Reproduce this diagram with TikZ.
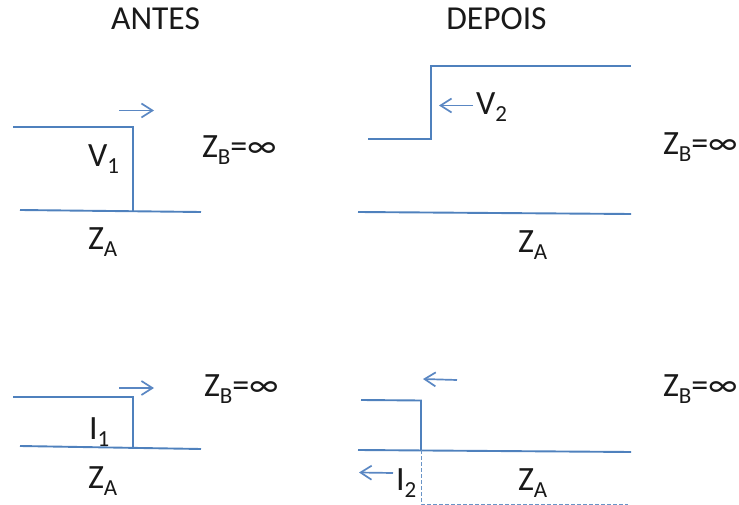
\documentclass[tikz,border=0pt]{standalone}
\usepackage{fontspec}
\setmainfont{Carlito}
\usetikzlibrary{arrows.meta}
\definecolor{wave}{RGB}{79,129,189}
\definecolor{arr}{RGB}{90,135,195}
\newcommand{\subs}[2]{#1\raisebox{-7pt}{\fontsize{23}{23}\selectfont #2}}
\tikzset{
  x=1pt,y=-1pt,
  wire/.style={draw=wave,line width=1.9pt},
  thin wire/.style={draw=wave!85,line width=1pt,dash pattern=on 4pt off 2pt},
  flow/.style={draw=arr,line width=1.7pt,-{Straight Barb[length=11pt,width=14pt,line width=1.7pt]}},
  lab/.style={inner sep=0pt,outer sep=0pt,font=\fontsize{34}{34}\selectfont,text=black!90,anchor=base west,yshift=-2pt},
  head/.style={inner sep=0pt,outer sep=0pt,font=\fontsize{33.5}{34}\selectfont,text=black!90,anchor=base}
}
\begin{document}
\begin{tikzpicture}
\useasboundingbox (0,0) rectangle (739,505);
\node[head] (antes) at (155.5,30) {ANTES};
\node[head] (depois) at (496.5,30) {DEPOIS};
% top left
\coordinate (a1) at (13,127); \coordinate (a2) at (133,127); \coordinate (a3) at (133,211);
\coordinate (a4) at (20,210); \coordinate (a5) at (201,212);
\draw[wire] (a1) -- (a2) -- (a3);
\draw[wire] (a4) -- (a5);
\coordinate (a6) at (119,110.5); \coordinate (a7) at (154,110.5);
\draw[flow] (a6) -- (a7);
\node[lab] (v1) at (88,165) {\subs{V}{1}};
\node[lab] (za1) at (88,248) {\subs{Z}{A}};
\node[lab] (zb1) at (202,156) {\subs{Z}{B}=∞};
% top right
\coordinate (b1) at (368,139); \coordinate (b2) at (431,139); \coordinate (b3) at (431,66);
\coordinate (b4) at (631,66); \coordinate (b5) at (358,212); \coordinate (b6) at (631,214);
\draw[wire] (b1) -- (b2) -- (b3) -- (b4);
\draw[wire] (b5) -- (b6);
\coordinate (b7) at (473,105.5); \coordinate (b8) at (439,105.5);
\draw[flow] (b7) -- (b8);
\node[lab] (v2) at (476,113) {\subs{V}{2}};
\node[lab] (za2) at (518,250) {\subs{Z}{A}};
\node[lab] (zb2) at (663,153) {\subs{Z}{B}=∞};
% bottom left
\coordinate (c1) at (13,397); \coordinate (c2) at (133,397); \coordinate (c3) at (133,447);
\coordinate (c4) at (20,446); \coordinate (c5) at (201,449);
\draw[wire] (c1) -- (c2) -- (c3);
\draw[wire] (c4) -- (c5);
\coordinate (c6) at (119,388); \coordinate (c7) at (154,388);
\draw[flow] (c6) -- (c7);
\node[lab] (i1) at (89,437) {\subs{I}{1}};
\node[lab] (za3) at (88,486) {\subs{Z}{A}};
\node[lab] (zb3) at (204,394) {\subs{Z}{B}=∞};
% bottom right
\coordinate (d1) at (361,400); \coordinate (d2) at (421,400.5); \coordinate (d3) at (421,450);
\coordinate (d4) at (358,450); \coordinate (d5) at (631,452);
\coordinate (d6) at (421,504); \coordinate (d7) at (628,504);
\draw[wire] (d1) -- (d2) -- (d3);
\draw[wire] (d4) -- (d5);
\draw[thin wire] (d3) -- (d6) -- (d7);
\coordinate (d8) at (457,380); \coordinate (d9) at (423,379);
\draw[flow] (d8) -- (d9);
\coordinate (d10) at (393,473); \coordinate (d11) at (359,472.5);
\draw[flow] (d10) -- (d11);
\node[lab] (i2) at (396,488) {\subs{I}{2}};
\node[lab] (za4) at (518,488) {\subs{Z}{A}};
\node[lab] (zb4) at (663,394) {\subs{Z}{B}=∞};
\end{tikzpicture}
\end{document}
